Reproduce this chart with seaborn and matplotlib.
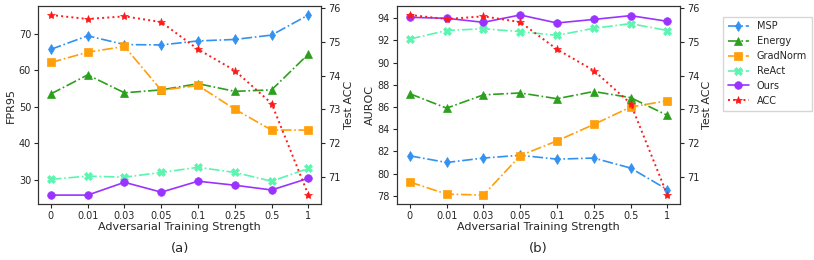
import numpy as np
import matplotlib
matplotlib.use("Agg")
import matplotlib.pyplot as plt
import pandas as pd
import seaborn as sns

strengths = ["0", "0.01", "0.03", "0.05", "0.1", "0.25", "0.5", "1"]
methods = ["MSP", "Energy", "GradNorm", "ReAct", "Ours"]

# panel (a): FPR95
fpr_msp = [65.7, 69.4, 67.0, 66.9, 68.0, 68.4, 69.6, 75.1]
fpr_energy = [53.5, 58.7, 53.8, 54.6, 56.3, 54.2, 54.6, 64.4]
fpr_gradnorm = [62.1, 64.9, 66.5, 54.5, 55.8, 49.3, 43.6, 43.6]
fpr_react = [30.1, 31.0, 30.7, 32.0, 33.4, 32.0, 29.6, 33.1]
fpr_ours = [25.8, 25.8, 29.3, 26.6, 29.6, 28.5, 27.2, 30.4]

# panel (b): AUROC
auroc_msp = [81.6, 81.0, 81.4, 81.65, 81.3, 81.4, 80.5, 78.55]
auroc_energy = [87.2, 85.9, 87.1, 87.27, 86.75, 87.4, 86.85, 85.25]
auroc_gradnorm = [79.24, 78.15, 78.06, 81.62, 82.95, 84.43, 86.0, 86.57]
auroc_react = [92.13, 92.9, 93.06, 92.8, 92.46, 93.1, 93.52, 92.9]
auroc_ours = [94.09, 94.0, 93.64, 94.3, 93.58, 93.9, 94.24, 93.73]

# test accuracy (same in both panels)
test_acc = [75.80, 75.68, 75.76, 75.59, 74.78, 74.15, 73.17, 70.45]

colors = {"MSP": "#3391f0", "Energy": "#2ca01c", "GradNorm": "#ff9f0a",
          "ReAct": "#5cf5b0", "Ours": "#9a33ff", "ACC": "#ff1a1a"}
markers = {"MSP": "d", "Energy": "^", "GradNorm": "s", "ReAct": "X", "Ours": "o"}
lstyles = {"MSP": "-.", "Energy": "-.", "GradNorm": "-.", "ReAct": "-.", "Ours": "-"}

fpr = {"MSP": fpr_msp, "Energy": fpr_energy, "GradNorm": fpr_gradnorm,
       "ReAct": fpr_react, "Ours": fpr_ours}
auroc = {"MSP": auroc_msp, "Energy": auroc_energy, "GradNorm": auroc_gradnorm,
         "ReAct": auroc_react, "Ours": auroc_ours}

sns.set_style("ticks")
plt.rcParams["font.family"] = ["DejaVu Sans"]

fig = plt.figure(figsize=(8.14, 2.6), dpi=100)
ax_a = fig.add_axes([0.0467, 0.215, 0.348, 0.762])
ax_b = fig.add_axes([0.4877, 0.215, 0.348, 0.762])

xpos = np.arange(len(strengths))


def draw_panel(ax, values, ylabel, letter):
    for m in methods:
        df = pd.DataFrame({"x": xpos, "y": values[m]})
        sns.lineplot(data=df, x="x", y="y", ax=ax, color=colors[m], marker=markers[m],
                     markersize=5.5, markeredgewidth=0.5,
                     markeredgecolor=colors[m], linewidth=1.2, label=m, legend=False)
        ax.lines[-1].set_linestyle(lstyles[m])
    ax.set_xticks(xpos)
    ax.set_xticklabels(strengths)
    ax.set_xlabel("Adversarial Training Strength", fontsize=8, labelpad=1)
    ax.set_ylabel(ylabel, fontsize=8, labelpad=2)
    ax.tick_params(labelsize=7, length=3, pad=2)
    ax.text(0.5, -0.225, letter, transform=ax.transAxes, ha="center", va="center", fontsize=9.5)
    for s in ax.spines.values():
        s.set_visible(True)
        s.set_color("#333333")

    tw = ax.twinx()
    df = pd.DataFrame({"x": xpos, "y": test_acc})
    sns.lineplot(data=df, x="x", y="y", ax=tw, color=colors["ACC"], marker="*",
                 markersize=6, markeredgewidth=0.5,
                 markeredgecolor=colors["ACC"], linewidth=1.4, label="ACC", legend=False)
    tw.lines[-1].set_linestyle(":")
    tw.set_ylabel("Test ACC", fontsize=8, labelpad=2)
    tw.set_yticks([71, 72, 73, 74, 75, 76])
    tw.tick_params(labelsize=7, length=3, pad=2)
    for s in tw.spines.values():
        s.set_visible(True)
        s.set_color("#333333")
    return tw


draw_panel(ax_a, fpr, "FPR95", "(a)")
ax_a.set_yticks([30, 40, 50, 60, 70])
tw_b = draw_panel(ax_b, auroc, "AUROC", "(b)")
ax_b.set_yticks([78, 80, 82, 84, 86, 88, 90, 92, 94])

h1, l1 = ax_b.get_legend_handles_labels()
h2, l2 = tw_b.get_legend_handles_labels()
fig.legend(h1 + h2, l1 + l2, loc="upper left", bbox_to_anchor=(0.882, 0.955),
           fontsize=7, frameon=True, handlelength=2.2, labelspacing=0.5,
           borderpad=0.5, handletextpad=0.8, fancybox=False, edgecolor="#cccccc")

fig.savefig("out.png", dpi=100)
